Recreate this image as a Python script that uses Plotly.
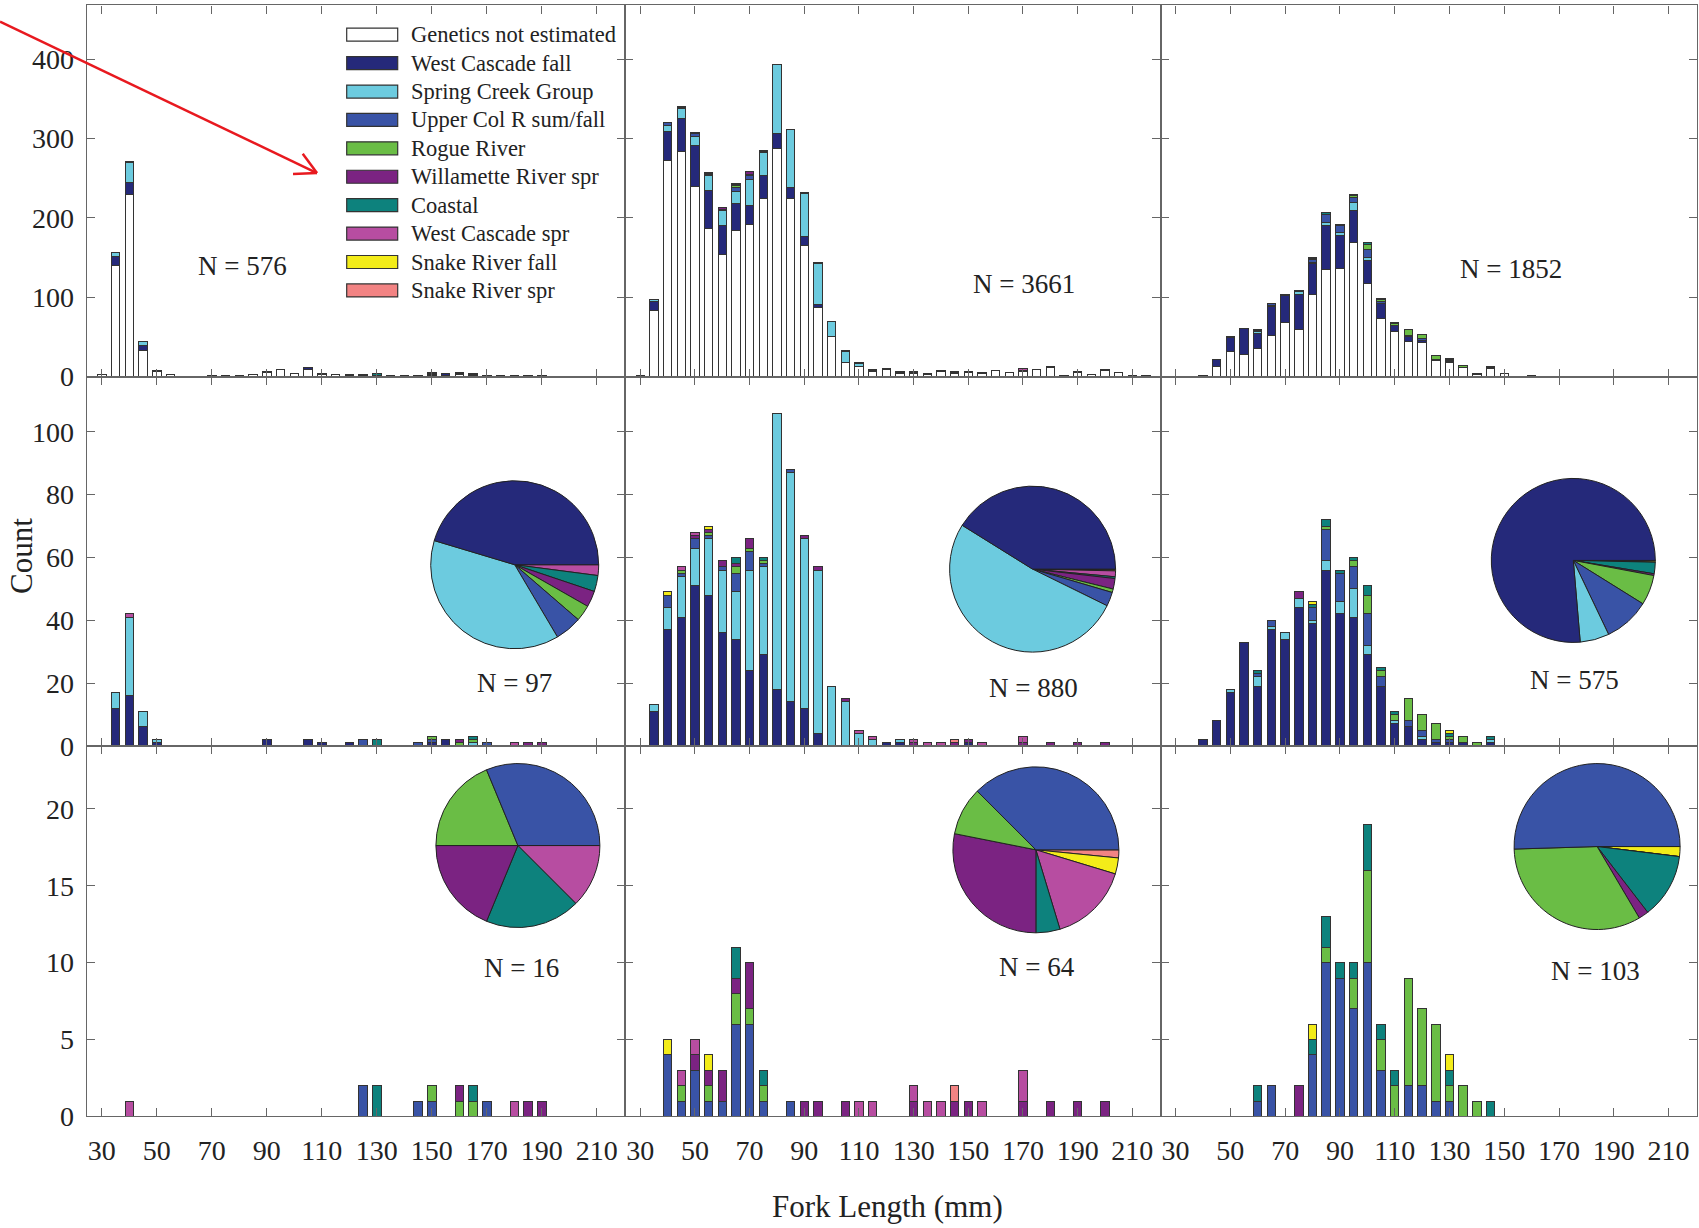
import math
import plotly.graph_objects as go

W = 1699
H = 1228
SY = 1.0136  # the photographed page is taller than the window; stretch vertical placement to match

# ---------------- data ----------------
FL = list(range(30, 220, 5))  # fork-length bin centres (mm), 30..215

STOCKS = ["Genetics not estimated", "West Cascade fall", "Spring Creek Group",
          "Upper Col R sum/fall", "Rogue River", "Willamette River spr", "Coastal",
          "West Cascade spr", "Snake River fall", "Snake River spr"]
COLORS = ["#ffffff", "#25297a", "#6ccbdf", "#3953a6", "#6abd45", "#7b2382",
          "#0d827d", "#b74da1", "#f3ec19", "#f28383"]

N_LABELS = [["N = 576", "N = 3661", "N = 1852"],
            ["N = 97", "N = 880", "N = 575"],
            ["N = 16", "N = 64", "N = 103"]]

# ---- left column ----
white_L  = [3,140,229,33,6,3,0,0,1,2, 2,3,5,9,4,9,3,3,2,1, 2,2,2,1,2,2,3,1,1,2, 1,1,1,0,0,0,0,0]
navy_L   = [0,12,16,6,1,0,0,0,0,0, 0,0,2,0,0,2,1,0,1,0, 0,0,0,0,1,2,0,0,0,0, 0,0,0,0,0,0,0,0]
sc_L     = [0,5,25,5,1,0,0,0,0,0, 0,0,0,0,0,0,0,0,0,0, 0,0,0,0,0,0,0,1,0,0, 0,0,0,0,0,0,0,0]
uc_L     = [0,0,0,0,0,0,0,0,0,0, 0,0,0,0,0,0,0,0,0,2, 0,0,0,1,1,0,0,0,1,0, 0,0,0,0,0,0,0,0]
rogue_L  = [0,0,0,0,0,0,0,0,0,0, 0,0,0,0,0,0,0,0,0,0, 0,0,0,0,1,0,1,1,0,0, 0,0,0,0,0,0,0,0]
wil_L    = [0,0,0,0,0,0,0,0,0,0, 0,0,0,0,0,0,0,0,0,0, 0,0,0,0,0,0,1,0,0,0, 0,1,1,0,0,0,0,0]
coast_L  = [0,0,0,0,0,0,0,0,0,0, 0,0,0,0,0,0,0,0,0,0, 2,0,0,0,0,0,0,1,0,0, 0,0,0,0,0,0,0,0]
wcspr_L  = [0,0,1,0,0,0,0,0,0,0, 0,0,0,0,0,0,0,0,0,0, 0,0,0,0,0,0,0,0,0,0, 1,0,0,0,0,0,0,0]
snkf_L   = [0]*38
snks_L   = [0]*38

# ---- middle column ----
white_M  = [1,84,272,284,240,187,154,184,192,225, 288,224,165,87,51,18,13,6,9,4, 4,3,7,4,5,4,8,5,7,9, 12,2,5,3,8,5,1,1]
navy_M   = [0,11,37,41,51,48,36,34,24,29, 18,14,12,4,0,0,0,0,1,1, 0,0,0,0,1,0,0,0,0,0, 0,0,0,0,0,0,0,0]
sc_M     = [0,2,7,13,12,18,20,15,32,28, 88,73,54,52,19,14,4,2,0,1, 0,0,0,0,0,0,0,0,0,0, 0,0,0,0,0,0,0,0]
uc_M     = [0,0,4,1,3,1,1,6,6,1, 0,1,0,0,0,0,0,0,0,0, 0,0,0,0,0,0,0,0,0,0, 0,0,0,0,0,0,0,0]
rogue_M  = [0,0,0,1,0,1,0,2,1,1, 0,0,0,0,0,0,0,0,0,0, 0,0,0,0,0,0,0,0,0,0, 0,0,0,0,0,0,0,0]
wil_M    = [0,0,0,0,1,1,2,1,3,0, 0,0,1,1,0,1,0,0,0,0, 1,0,0,1,1,0,0,0,1,0, 1,0,1,0,1,0,0,0]
coast_M  = [0,0,0,0,0,0,0,2,0,1, 0,0,0,0,0,0,0,0,0,0, 0,0,0,0,0,0,0,0,0,0, 0,0,0,0,0,0,0,0]
wcspr_M  = [0,0,0,1,1,0,0,0,0,0, 0,0,0,0,0,0,1,1,0,0, 1,1,1,0,0,1,0,0,2,0, 0,0,0,0,0,0,0,0]
snkf_M   = [0,0,1,0,0,1,0,0,0,0, 0,0,0,0,0,0,0,0,0,0, 0,0,0,0,0,0,0,0,0,0, 0,0,0,0,0,0,0,0]
snks_M   = [0,0,0,0,0,0,0,0,0,0, 0,0,0,0,0,0,0,0,0,0, 0,0,0,1,0,0,0,0,0,0, 0,0,0,0,0,0,0,0]

# ---- right column ----
white_R  = [0,0,0,13,32,28,35,52,68,60, 104,135,136,169,118,73,57,44,43,20, 18,11,3,10,4,0,1,0,0,0, 0,0,0,0,0,0,0,0]
navy_R   = [0,0,2,8,17,33,19,37,34,44, 39,56,42,41,29,19,7,6,2,1, 1,1,0,1,0,0,0,0,0,0, 0,0,0,0,0,0,0,0]
sc_R     = [0,0,0,0,1,0,3,1,2,3, 1,3,4,9,3,0,1,0,1,0, 0,0,0,1,0,0,0,0,0,0, 0,0,0,0,0,0,0,0]
uc_R     = [0,0,0,0,0,0,1,2,0,0, 4,10,9,7,10,3,0,2,2,1, 1,0,0,0,0,0,0,0,0,0, 0,0,0,0,0,0,0,0]
rogue_R  = [0,0,0,0,0,0,0,0,0,0, 0,1,0,2,6,2,2,7,5,5, 1,2,1,0,0,0,0,0,0,0, 0,0,0,0,0,0,0,0]
wil_R    = [0,0,0,0,0,0,0,0,0,2, 0,0,0,0,0,0,0,0,0,0, 0,0,0,0,0,0,0,0,0,0, 0,0,0,0,0,0,0,0]
coast_R  = [0,0,0,0,0,0,1,0,0,0, 1,2,1,1,3,1,1,0,0,0, 1,0,0,1,0,0,0,0,0,0, 0,0,0,0,0,0,0,0]
wcspr_R  = [0]*38
snkf_R   = [0,0,0,0,0,0,0,0,0,0, 1,0,0,0,0,0,0,0,0,0, 1,0,0,0,0,0,0,0,0,0, 0,0,0,0,0,0,0,0]
snks_R   = [0]*38

COLUMNS = [
    [white_L, navy_L, sc_L, uc_L, rogue_L, wil_L, coast_L, wcspr_L, snkf_L, snks_L],
    [white_M, navy_M, sc_M, uc_M, rogue_M, wil_M, coast_M, wcspr_M, snkf_M, snks_M],
    [white_R, navy_R, sc_R, uc_R, rogue_R, wil_R, coast_R, wcspr_R, snkf_R, snks_R],
]
for col in COLUMNS:
    for s in col:
        assert len(s) == len(FL), len(s)

# stocks stacked in each row (top: all fish, middle: all genotyped, bottom: other stocks)
ROW_STOCKS = [list(range(0, 10)), list(range(1, 10)), list(range(3, 10))]

Y_RANGES = [[0, 468], [0, 117.6], [0, 24.1]]
Y_TICKS = [[0, 100, 200, 300, 400], [0, 20, 40, 60, 80, 100], [0, 5, 10, 15, 20]]
X_TICKS = list(range(30, 211, 20))

# ---------------- layout geometry (pixels) ----------------
COL_X = [(86.7, 625.2), (625.2, 1160.5), (1160.5, 1696.8)]
ROW_Y = [(5.4, 376.5), (376.5, 745.5), (745.5, 1116.0)]
X_RANGE = [24.5, 220.3]
PIES = {(1, 0): (514.7, 564.5, 84), (1, 1): (1032.6, 568.9, 83), (1, 2): (1573.3, 560.2, 82),
        (2, 0): (517.9, 845.2, 82), (2, 1): (1035.9, 849.5, 83), (2, 2): (1597.1, 846.2, 83)}
N_POS = [[(242.7, 265.5), (1024.0, 283.9), (1510.5, 268.7)],
         [(514.7, 682.6), (1033.7, 688.0), (1574.4, 679.4)],
         [(521.2, 967.6), (1037.0, 966.5), (1595.0, 970.8)]]

FONT = "Liberation Serif, Times New Roman, serif"
AX_COL = "#666666"
TXT = "#222222"


def px(x):
    return x / W


def py(y):
    return 1 - SY * y / H


fig = go.Figure()
layout = dict(width=W, height=H, autosize=False, margin=dict(l=0, r=0, t=0, b=0, pad=0),
              paper_bgcolor="white", plot_bgcolor="white", barmode="stack",
              showlegend=False, font=dict(family=FONT, color=TXT))

annotations = []
shapes = []

for r in range(3):
    for c in range(3):
        k = r * 3 + c + 1
        xa = "x" if k == 1 else f"x{k}"
        ya = "y" if k == 1 else f"y{k}"
        col = COLUMNS[c]
        for si in ROW_STOCKS[r]:
            vals = [v if v else None for v in col[si]]
            fig.add_trace(go.Bar(
                x=FL, y=vals, xaxis=xa, yaxis=ya, width=3.1, name=STOCKS[si],
                marker=dict(color=COLORS[si], line=dict(color="#333333", width=1)),
                showlegend=False, hoverinfo="x+y+name"))
        layout["xaxis" if k == 1 else f"xaxis{k}"] = dict(
            domain=[px(COL_X[c][0]), px(COL_X[c][1])], range=X_RANGE, anchor=ya,
            tickvals=X_TICKS, ticks="inside", ticklen=8, tickcolor=AX_COL,
            showline=True, linecolor=AX_COL, linewidth=1.2, mirror="ticks",
            showgrid=False, zeroline=False, showticklabels=(r == 2),
            tickfont=dict(size=28, family=FONT, color=TXT), ticklabelstandoff=9)
        layout["yaxis" if k == 1 else f"yaxis{k}"] = dict(
            domain=[py(ROW_Y[r][1]), py(ROW_Y[r][0])], range=Y_RANGES[r], anchor=xa,
            tickvals=Y_TICKS[r], ticks="inside", ticklen=8, tickcolor=AX_COL,
            showline=True, linecolor=AX_COL, linewidth=1.2, mirror="ticks",
            showgrid=False, zeroline=False, showticklabels=(c == 0),
            tickfont=dict(size=28, family=FONT, color=TXT), ticklabelstandoff=6)
        cx, cy = N_POS[r][c]
        annotations.append(dict(xref="paper", yref="paper", x=px(cx), y=py(cy),
                                text=N_LABELS[r][c], showarrow=False,
                                xanchor="center", yanchor="middle",
                                font=dict(size=27, family=FONT, color=TXT)))

# pie charts of stock composition: first stock starts at 3 o'clock, going counter-clockwise
for (r, c), (cx, cy, rad) in PIES.items():
    idx = ROW_STOCKS[r][::-1]
    fig.add_trace(go.Pie(
        labels=[STOCKS[i] for i in idx],
        values=[sum(COLUMNS[c][i]) for i in idx],
        marker=dict(colors=[COLORS[i] for i in idx], line=dict(color="#222222", width=1)),
        domain=dict(x=[px(cx - rad), px(cx + rad)], y=[py(cy + rad), py(cy - rad)]),
        sort=False, direction="clockwise", rotation=90,
        textinfo="none", showlegend=False))

# manual legend in the top-left panel
LEG_Y0, LEG_DY = 34.7, 28.4
for i, name in enumerate(STOCKS):
    yc = LEG_Y0 + i * LEG_DY
    shapes.append(dict(type="rect", xref="paper", yref="paper",
                       x0=px(346.7), x1=px(397.7), y0=py(yc + 6.5), y1=py(yc - 6.5),
                       fillcolor=COLORS[i], line=dict(color="#333333", width=1.2)))
    annotations.append(dict(xref="paper", yref="paper", x=px(408.5), y=py(yc),
                            text=name, showarrow=False, xanchor="left", yanchor="middle",
                            font=dict(size=22.5, family=FONT, color=TXT)))

# axis titles
annotations.append(dict(xref="paper", yref="paper", x=px(887.4), y=py(1206),
                        text="Fork Length (mm)", showarrow=False, xanchor="center",
                        yanchor="middle", font=dict(size=31, family=FONT, color=TXT)))
annotations.append(dict(xref="paper", yref="paper", x=px(21.7), y=py(556),
                        text="Count", showarrow=False, textangle=-90, xanchor="center",
                        yanchor="middle", font=dict(size=31, family=FONT, color=TXT)))

# red arrow pointing at the legend
tail = (0.0, 21.7)
tip = (317.0, 173.0)
dx, dy = tip[0] - tail[0], tip[1] - tail[1]
L = math.hypot(dx, dy)
ux, uy = dx / L, dy / L
RED = "#e8191f"
shapes.append(dict(type="line", xref="paper", yref="paper",
                   x0=px(tail[0]), y0=py(tail[1]), x1=px(tip[0]), y1=py(tip[1]),
                   line=dict(color=RED, width=2.5)))
for sgn in (1, -1):
    a = math.radians(28) * sgn
    bx = -ux * math.cos(a) + uy * math.sin(a)
    by = -uy * math.cos(a) - ux * math.sin(a)
    shapes.append(dict(type="line", xref="paper", yref="paper",
                       x0=px(tip[0]), y0=py(tip[1]), x1=px(tip[0] + 24 * bx), y1=py(tip[1] + 24 * by),
                       line=dict(color=RED, width=2.5)))

layout["annotations"] = annotations
layout["shapes"] = shapes
fig.update_layout(**layout)

fig.write_html("out.html", config={"displayModeBar": False, "responsive": False},
               post_script="document.body.style.margin='0';document.body.style.overflow='hidden';")
